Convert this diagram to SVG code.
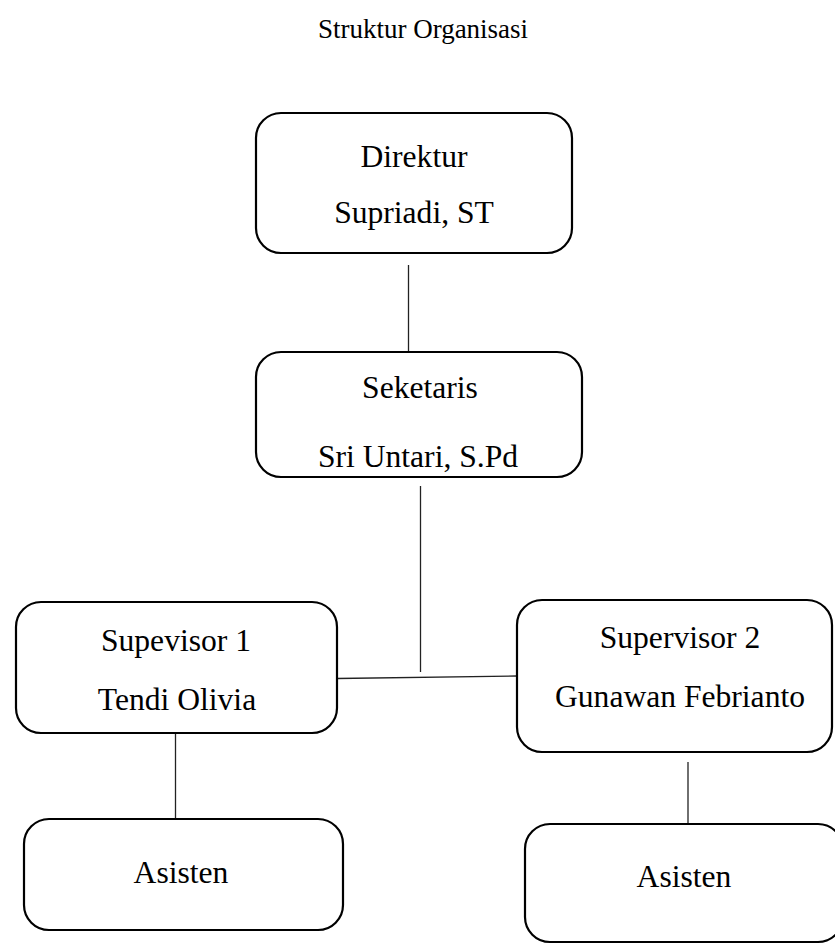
<svg xmlns="http://www.w3.org/2000/svg" width="835" height="950" viewBox="0 0 835 950">
<style>
.box{fill:#fff;stroke:#000;stroke-width:2.2}
.t{font-family:"Liberation Serif","Times New Roman",serif;font-size:31.6px;fill:#000;text-anchor:middle}
.title{font-family:"Liberation Serif","Times New Roman",serif;font-size:27px;fill:#000;text-anchor:middle}
.c{stroke:#222;stroke-width:1.3;fill:none}
</style>
<rect width="835" height="950" fill="#fff"/>
<text class="title" x="423" y="38">Struktur Organisasi</text>
<g id="connectors">
<line class="c" x1="408.5" y1="265" x2="408.5" y2="352"/>
<line class="c" x1="420.5" y1="486" x2="420.5" y2="672"/>
<line class="c" x1="337" y1="678.5" x2="517" y2="676"/>
<line class="c" x1="175.5" y1="733" x2="175.5" y2="819"/>
<line class="c" x1="688" y1="762" x2="688" y2="824"/>
</g>
<g id="direktur">
<rect class="box" x="256" y="113" width="316" height="140" rx="25"/>
<text class="t" x="414" y="167">Direktur</text>
<text class="t" x="414" y="223">Supriadi, ST</text>
</g>
<g id="seketaris">
<rect class="box" x="256" y="352" width="326" height="125" rx="25"/>
<text class="t" x="420" y="398">Seketaris</text>
<text class="t" x="418" y="467">Sri Untari, S.Pd</text>
</g>
<g id="supervisor1">
<rect class="box" x="16" y="602" width="321" height="131" rx="25"/>
<text class="t" x="176" y="651">Supevisor 1</text>
<text class="t" x="177" y="710">Tendi Olivia</text>
</g>
<g id="supervisor2">
<rect class="box" x="517" y="600" width="315" height="152" rx="25"/>
<text class="t" x="680" y="648">Supervisor 2</text>
<text class="t" x="680" y="707">Gunawan Febrianto</text>
</g>
<g id="asisten1">
<rect class="box" x="24" y="819" width="319" height="111" rx="25"/>
<text class="t" x="181" y="883">Asisten</text>
</g>
<g id="asisten2">
<rect class="box" x="525" y="824" width="318" height="118" rx="25"/>
<text class="t" x="684" y="887">Asisten</text>
</g>
</svg>
